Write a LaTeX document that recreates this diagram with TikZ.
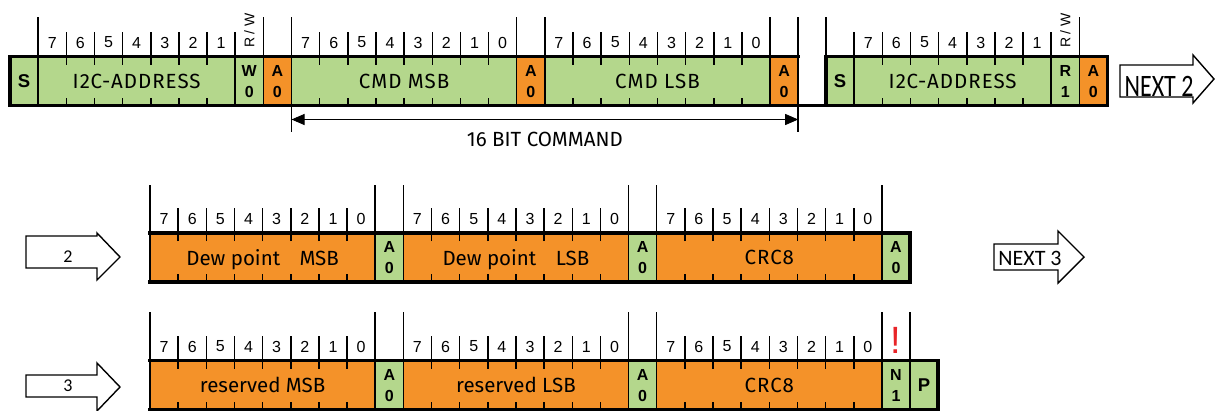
\documentclass[tikz,border=0pt]{standalone}
\usepackage{fontspec}
\setmainfont{Liberation Sans}
\newfontfamily\labelfont{Fira Sans}
\newfontfamily\capsfont[LetterSpace=5]{Fira Sans}
\newfontfamily\arrowfont{Carlito}
\usetikzlibrary{shapes,arrows.meta,positioning}
\definecolor{fieldgreen}{RGB}{180,215,140}
\definecolor{fieldorange}{RGB}{244,146,41}
\definecolor{alertred}{RGB}{232,36,40}
\tikzset{
  field/.style={draw, line width=1.5pt, inner sep=0pt, outer sep=0pt, anchor=west,
    minimum width=28.15, minimum height=49, text depth=0pt,
    font=\labelfont\fontsize{20.5}{20.5}\selectfont},
  gfield/.style={field, fill=fieldgreen},
  ofield/.style={field, fill=fieldorange},
  capsfield/.style={font=\capsfont\fontsize{20.5}{20.5}\selectfont},
  flag/.style={font=\bfseries\fontsize{16}{21}\selectfont, align=center},
  startstop/.style={font=\bfseries\fontsize{18.5}{18.5}\selectfont},
  bitno/.style={inner sep=0pt, font=\fontsize{16}{16}\selectfont},
  frame/.style={line width=3.5pt, line join=miter, line cap=rect},
  tick/.style={line width=1.5pt},
  dim/.style={line width=0.9pt, {Triangle[length=13pt,width=11pt]}-{Triangle[length=13pt,width=11pt]}},
  blockarrow/.style={draw, line width=1.4pt, fill=white, line join=miter},
  arrowlabel/.style={inner sep=0pt, font=\arrowfont\fontsize{18}{18}\selectfont}
}
\begin{document}
\begin{tikzpicture}[x=1pt,y=-1pt]
\useasboundingbox (0,0) rectangle (1215,410);

% write header + command
\node[gfield, startstop] (startA) at (10,81) {S};
\node[gfield, capsfield, minimum width=197.05, right=0pt of startA] (addrA) {I2C-ADDRESS};
\node[gfield, flag, right=0pt of addrA] (rwA) {W\\0};
\node[ofield, flag, right=0pt of rwA] (ackA) {A\\0};
\node[gfield, capsfield, minimum width=225.2, right=0pt of ackA] (cmdmsb) {CMD MSB};
\node[ofield, flag, right=0pt of cmdmsb] (ackB) {A\\0};
\node[gfield, capsfield, minimum width=225.2, right=0pt of ackB] (cmdlsb) {CMD LSB};
\node[ofield, flag, right=0pt of cmdlsb] (ackC) {A\\0};
% read header
\node[gfield, startstop] (startB) at (826,81) {S};
\node[gfield, capsfield, minimum width=197.05, right=0pt of startB] (addrB) {I2C-ADDRESS};
\node[gfield, flag, right=0pt of addrB] (rwB) {R\\1};
\node[ofield, flag, right=0pt of rwB] (ackD) {A\\0};

% dew point
\node[ofield, minimum width=225.2] (dpmsb) at (150,257.5) {Dew point\hspace{14pt} MSB};
\node[gfield, flag, right=0pt of dpmsb] (ackE) {A\\0};
\node[ofield, minimum width=225.2, right=0pt of ackE] (dplsb) {Dew point\hspace{14pt} LSB};
\node[gfield, flag, right=0pt of dplsb] (ackF) {A\\0};
\node[ofield, capsfield, minimum width=225.2, right=0pt of ackF] (crcA) {CRC8};
\node[gfield, flag, right=0pt of crcA] (ackG) {A\\0};

% reserved + stop
\node[ofield, minimum width=225.2] (resmsb) at (150,385) {reserved MSB};
\node[gfield, flag, right=0pt of resmsb] (ackH) {A\\0};
\node[ofield, minimum width=225.2, right=0pt of ackH] (reslsb) {reserved LSB};
\node[gfield, flag, right=0pt of reslsb] (ackI) {A\\0};
\node[ofield, capsfield, minimum width=225.2, right=0pt of ackI] (crcB) {CRC8};
\node[gfield, flag, right=0pt of crcB] (nack) {N\\1};
\node[gfield, startstop, right=0pt of nack] (stop) {P};
\node[inner sep=0pt, text=alertred, font=\fontsize{38}{38}\selectfont] (alert) at ([yshift=20pt]nack.north) {!};

% thick frame lines
\draw[frame] (ackC.north east) -- (startA.north west) -- (startA.south west) -- (ackD.south east);
\draw[frame] (startB.south west) -- (startB.north west) -- (ackD.north east) -- (ackD.south east);
\draw[frame] (dpmsb.north west) -- (ackG.north east) -- (ackG.south east) -- (dpmsb.south west);
\draw[frame] (resmsb.north west) -- (stop.north east) -- (stop.south east) -- (resmsb.south west);

% bit numbers and ticks
\foreach \f/\n in {addrA/7,cmdmsb/8,cmdlsb/8,addrB/7,dpmsb/8,dplsb/8,crcA/8,resmsb/8,reslsb/8,crcB/8}{
  \foreach \i in {1,...,\n}
    \node[bitno] (\f-\i) at ([xshift={(\i-0.5)*28.15pt}, yshift=14pt]\f.north west) {\the\numexpr8-\i\relax};
  \foreach \i in {2,...,\n}{
    \draw[tick] ([xshift={(\i-1)*28.15pt}]\f.north west) ++(0,8) -- ++(0,-33);
    \draw[tick] ([xshift={(\i-1)*28.15pt}]\f.south west) -- ++(0,-8);
  }
}
\node[bitno, rotate=90, font=\fontsize{14}{14}\selectfont] (rwtextA) at ([yshift=26pt]rwA.north) {R / W};
\node[bitno, rotate=90, font=\fontsize{14}{14}\selectfont] (rwtextB) at ([yshift=26pt]rwB.north) {R / W};

% field borders above
\foreach \a in {addrA,ackA,cmdmsb,ackB,cmdlsb,ackC,startB,ackD}
  \draw[tick] (\a.north west) -- ++(0,-40);
\draw[tick] (ackC.north east) -- ++(0,-40);
\foreach \a in {rwA,addrB,rwB}
  \draw[tick] (\a.north west) -- ++(0,-25);
\foreach \a in {dpmsb,ackE,dplsb,ackF,crcA,ackG}
  \draw[tick] (\a.north west) -- ++(0,-48);
\foreach \a in {resmsb,ackH,reslsb,ackI,crcB,nack,stop}
  \draw[tick] (\a.north west) -- ++(0,-49);

% 16 bit command
\draw[tick] (cmdmsb.south west) -- ++(0,26);
\draw[tick] (ackC.south east) -- ++(0,26);
\coordinate (cmdL) at ([yshift=-14pt]cmdmsb.south west);
\coordinate (cmdR) at ([yshift=-14pt]ackC.south east);
\draw[dim] (cmdL) -- node[midway, yshift=-20pt, inner sep=0pt, font=\labelfont\fontsize{20.5}{20.5}\selectfont] (cmdtext) {16 BIT COMMAND} (cmdR);

% block arrows
\draw[blockarrow] (1120,65) -- (1193,65) -- (1193,55) -- (1214,79) -- (1193,103) -- (1193,97) -- (1120,97) -- cycle;
\node[arrowlabel, anchor=base, font=\arrowfont\fontsize{24}{24}\selectfont] (next2) at (1159,96) {\scalebox{1}[1.3]{NEXT 2}};
\draw[blockarrow] (26,236) -- (97,236) -- (97,233) -- (120,257) -- (97,280) -- (97,268) -- (26,268) -- cycle;
\node[arrowlabel] (in2) at (68,257) {2};
\draw[blockarrow] (994,244) -- (1058,244) -- (1058,231) -- (1084,257) -- (1058,283) -- (1058,270) -- (994,270) -- cycle;
\node[arrowlabel, font=\arrowfont\fontsize{22}{22}\selectfont] (next3) at (1030,258) {NEXT 3};
\draw[blockarrow] (26,375) -- (97,375) -- (97,363) -- (120,387) -- (97,411) -- (97,397) -- (26,397) -- cycle;
\node[arrowlabel] (in3) at (68,386) {3};
\end{tikzpicture}
\end{document}
